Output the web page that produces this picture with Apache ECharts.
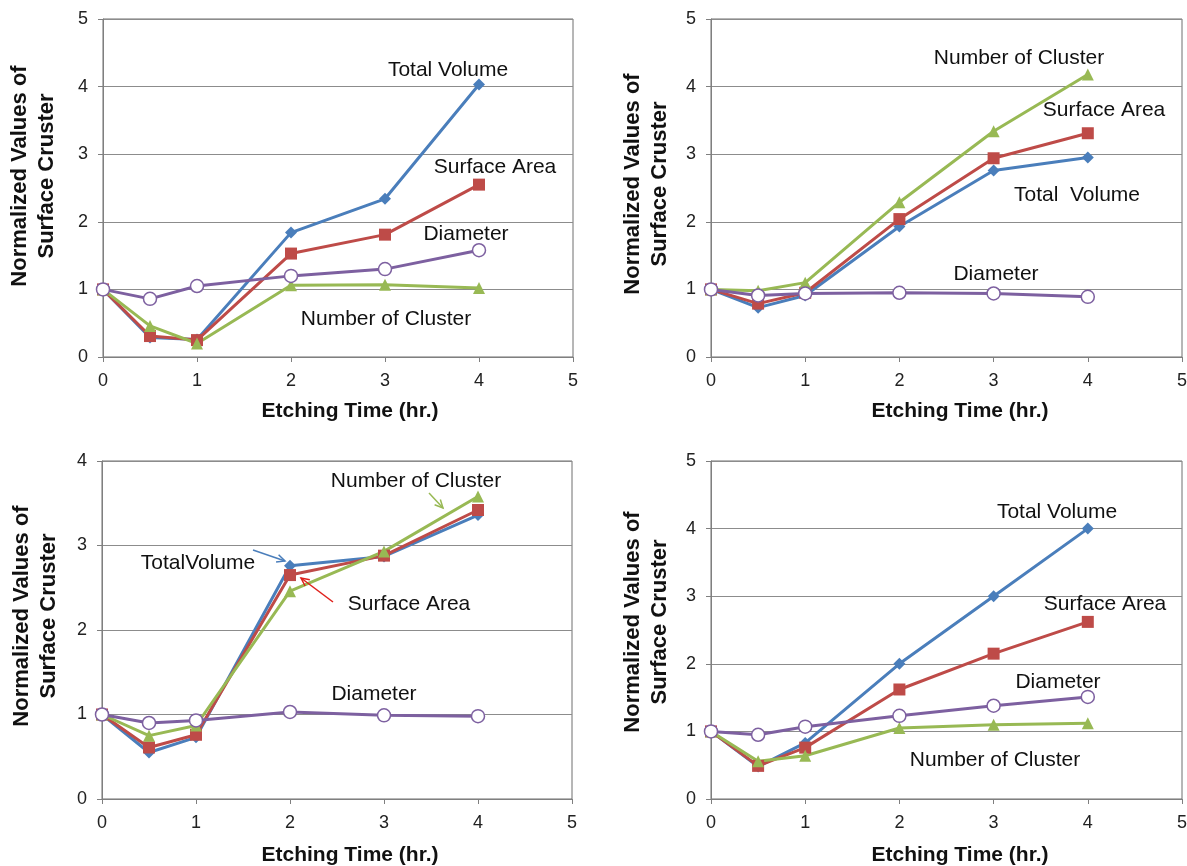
<!DOCTYPE html>
<html><head><meta charset="utf-8">
<script src="https://cdn.jsdelivr.net/npm/echarts@6/dist/echarts.min.js"></script>
<style>html,body{margin:0;padding:0;background:#fff}#c{width:1187px;height:866px}</style>
</head><body><div id="c"></div>
<script>
// ---- data ----
const times = [0, 0.5, 1, 2, 3, 4];
const xTickMax = 5;
const seriesNames = ['Total Volume', 'Surface Area', 'Number of Cluster', 'Diameter'];
const yTitleLines = ['Normalized Values of', 'Surface Cruster'];
const xTitle = 'Etching Time (hr.)';

// panel A (top-left)
const aTotalVolume = [1.0, 0.29, 0.26, 1.84, 2.34, 4.03];
const aSurfaceArea = [1.0, 0.31, 0.25, 1.53, 1.81, 2.55];
const aNumCluster  = [1.0, 0.46, 0.20, 1.06, 1.07, 1.02];
const aDiameter    = [1.0, 0.86, 1.05, 1.20, 1.30, 1.58];
// panel B (top-right)
const bTotalVolume = [1.0, 0.73, 0.91, 1.93, 2.76, 2.95];
const bSurfaceArea = [1.0, 0.79, 0.95, 2.04, 2.94, 3.31];
const bNumCluster  = [1.0, 0.98, 1.10, 2.29, 3.34, 4.18];
const bDiameter    = [1.0, 0.91, 0.94, 0.95, 0.94, 0.89];
// panel C (bottom-left)
const cTotalVolume = [1.0, 0.55, 0.73, 2.76, 2.87, 3.36];
const cSurfaceArea = [1.0, 0.61, 0.76, 2.65, 2.88, 3.42];
const cNumCluster  = [1.0, 0.75, 0.87, 2.46, 2.93, 3.58];
const cDiameter    = [1.0, 0.90, 0.93, 1.03, 0.99, 0.98];
// panel D (bottom-right)
const dTotalVolume = [1.0, 0.48, 0.83, 2.00, 3.00, 4.00];
const dSurfaceArea = [1.0, 0.49, 0.76, 1.62, 2.15, 2.62];
const dNumCluster  = [1.0, 0.56, 0.64, 1.05, 1.10, 1.12];
const dDiameter    = [1.0, 0.95, 1.07, 1.23, 1.38, 1.51];

const yMaxes = [5, 5, 4, 5];

// ---- styling / layout ----
const FONT = "'Liberation Sans', Arial, sans-serif";
const colors = { tv: '#4a7ebb', sa: '#be4b48', nc: '#98b954', di: '#7d60a0' };
const grids = [
  { left: 103, top: 19, width: 470, height: 338 },
  { left: 711, top: 19, width: 471, height: 338 },
  { left: 102, top: 461, width: 470, height: 338 },
  { left: 711, top: 461, width: 471, height: 338 }
];
const panels = [
  [aTotalVolume, aSurfaceArea, aNumCluster, aDiameter],
  [bTotalVolume, bSurfaceArea, bNumCluster, bDiameter],
  [cTotalVolume, cSurfaceArea, cNumCluster, cDiameter],
  [dTotalVolume, dSurfaceArea, dNumCluster, dDiameter]
];
// axis-title placement (page pixels)
const yTitlePos = [[20, 47, 176], [633, 660, 184], [22, 49, 616], [633, 660, 622]];
const xTitlePos = [[350, 411], [960, 411], [350, 855], [960, 855]];

const xAxes = [], yAxes = [], series = [];
grids.forEach((g, i) => {
  Object.assign(g, { show: true, borderColor: '#6e6e6e', borderWidth: 1, backgroundColor: '#fff',
    containLabel: false, outerBoundsMode: 'none' });
  xAxes.push({
    type: 'value', gridIndex: i, min: 0, max: xTickMax, interval: 1,
    axisLine: { show: true, lineStyle: { color: '#7f7f7f', width: 1 } },
    axisTick: { show: true, length: 5, lineStyle: { color: '#7f7f7f' } },
    axisLabel: { fontFamily: FONT, fontSize: 18, color: '#222', margin: 15 },
    splitLine: { show: false }
  });
  yAxes.push({
    type: 'value', gridIndex: i, min: 0, max: yMaxes[i], interval: 1,
    axisLine: { show: true, lineStyle: { color: '#7f7f7f', width: 1 } },
    axisTick: { show: true, length: 5, lineStyle: { color: '#7f7f7f' } },
    axisLabel: { fontFamily: FONT, fontSize: 18, color: '#222', margin: 15 },
    splitLine: { show: true, lineStyle: { color: '#8c8c8c', width: 1 } }
  });
  const [tv, sa, nc, di] = panels[i];
  const mk = (name, vals, color, symbol, size, fill) => ({
    type: 'line', name, xAxisIndex: i, yAxisIndex: i,
    data: times.map((t, k) => [t, vals[k]]),
    symbol, symbolSize: size, showSymbol: true,
    lineStyle: { color, width: 3 },
    itemStyle: { color: fill || color, borderColor: color, borderWidth: fill ? 1.5 : 0 },
    emphasis: { disabled: true }, animation: false
  });
  series.push(mk(seriesNames[0], tv, colors.tv, 'diamond', 12));
  series.push(mk(seriesNames[1], sa, colors.sa, 'rect', 12));
  series.push(mk(seriesNames[2], nc, colors.nc, 'triangle', 12));
  series.push(mk(seriesNames[3], di, colors.di, 'circle', 13, '#ffffff'));
});

// annotations (text labels placed on the page)
const labels = [
  ['Total Volume', 448, 70], ['Surface Area', 495, 167], ['Diameter', 466, 234], ['Number of Cluster', 386, 319],
  ['Number of Cluster', 1019, 58], ['Surface Area', 1104, 110], ['Total  Volume', 1077, 195], ['Diameter', 996, 274],
  ['Number of Cluster', 416, 481], ['TotalVolume', 198, 563], ['Surface Area', 409, 604], ['Diameter', 374, 694],
  ['Total Volume', 1057, 512], ['Surface Area', 1105, 604], ['Diameter', 1058, 682], ['Number of Cluster', 995, 760]
];
const arrows = [
  [253, 550, 285, 561, colors.tv],
  [333, 602, 301, 578, '#e0201b'],
  [429, 493, 443, 508, colors.nc]
];
const graphic = labels.map(([t, x, y]) => ({
  type: 'text', z: 100,
  style: { text: t, x, y, fill: '#111', fontFamily: FONT, fontSize: 21,
    align: 'center', verticalAlign: 'middle', textAlign: 'center', textVerticalAlign: 'middle' }
}));
yTitlePos.forEach(([x1, x2, y]) => {
  [x1, x2].forEach((x, k) => graphic.push({
    type: 'text', z: 100, x, y, rotation: Math.PI / 2,
    style: { text: yTitleLines[k], x: 0, y: 0, fill: '#111', fontFamily: FONT, fontSize: 22, fontWeight: 'bold',
      align: 'center', verticalAlign: 'middle', textAlign: 'center', textVerticalAlign: 'middle' }
  }));
});
xTitlePos.forEach(([x, y]) => graphic.push({
  type: 'text', z: 100,
  style: { text: xTitle, x, y, fill: '#111', fontFamily: FONT, fontSize: 21, fontWeight: 'bold',
    align: 'center', verticalAlign: 'middle', textAlign: 'center', textVerticalAlign: 'middle' }
}));
arrows.forEach(([x1, y1, x2, y2, c]) => {
  const ang = Math.atan2(y2 - y1, x2 - x1), L = 9, W = 0.45;
  graphic.push({ type: 'line', z: 100, shape: { x1, y1, x2, y2 }, style: { stroke: c, lineWidth: 1.5 } });
  graphic.push({ type: 'polyline', z: 100, shape: { points: [
    [x2 - L * Math.cos(ang - W), y2 - L * Math.sin(ang - W)], [x2, y2],
    [x2 - L * Math.cos(ang + W), y2 - L * Math.sin(ang + W)]] },
    style: { stroke: c, lineWidth: 1.5, fill: null } });
});

const chart = echarts.init(document.getElementById('c'), null, { renderer: 'canvas' });
chart.setOption({
  animation: false,
  backgroundColor: '#ffffff',
  textStyle: { fontFamily: FONT },
  grid: grids, xAxis: xAxes, yAxis: yAxes, series, graphic
});
</script></body></html>
